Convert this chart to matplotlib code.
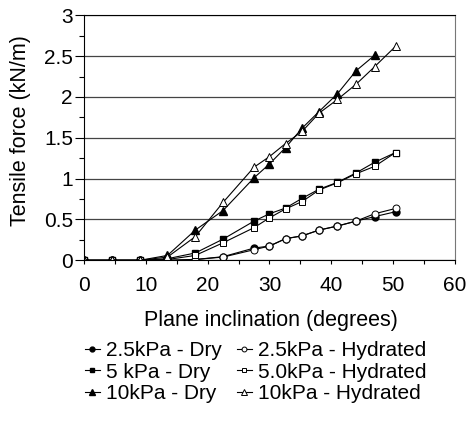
import matplotlib
matplotlib.use('Agg')
import matplotlib.pyplot as plt
from matplotlib.ticker import MultipleLocator, FormatStrFormatter

plt.rcParams['font.family'] = ['Liberation Sans', 'DejaVu Sans']

# inclinacao do plano (graus)
inclinacao = [0, 4.5, 9, 13.5, 18, 22.5, 27.5, 30, 32.6, 35.3, 38, 41, 44, 47, 50.4]

seco_25 = [0, 0, 0, 0, 0.01, 0.045, 0.15, 0.175, 0.265, 0.30, 0.37, 0.42, 0.48, 0.535, 0.595]
hidr_25 = [0, 0, 0, 0, 0.01, 0.04, 0.13, 0.175, 0.265, 0.30, 0.37, 0.42, 0.48, 0.57, 0.635]
seco_5 = [0, 0, 0, 0.02, 0.09, 0.26, 0.48, 0.57, 0.64, 0.76, 0.87, 0.955, 1.07, 1.20, 1.32]
hidr_5 = [0, 0, 0, 0.01, 0.06, 0.215, 0.40, 0.52, 0.63, 0.72, 0.86, 0.95, 1.06, 1.15, 1.32]
seco_10 = [0, 0, 0, 0.06, 0.37, 0.61, 1.01, 1.18, 1.38, 1.62, 1.82, 2.04, 2.32, 2.51]
hidr_10 = [0, 0, 0, 0.04, 0.29, 0.71, 1.14, 1.27, 1.43, 1.58, 1.80, 1.97, 2.155, 2.37, 2.62]

fig = plt.figure(figsize=(4.7, 4.24), dpi=100)
ax = fig.add_axes([0.1787, 0.386, 0.7893, 0.578])

ax.grid(axis='y', color='#444444', linewidth=0.9)
ax.set_axisbelow(True)

estilo = dict(color='black', linewidth=0.8)
l1, = ax.plot(inclinacao, seco_25, marker='o', ms=5, mfc='black', mec='black', **estilo)
l2, = ax.plot(inclinacao, hidr_25, marker='o', ms=5, mfc='white', mec='black', mew=0.7, **estilo)
l3, = ax.plot(inclinacao, seco_5, marker='s', ms=5, mfc='black', mec='black', **estilo)
l4, = ax.plot(inclinacao, hidr_5, marker='s', ms=5, mfc='white', mec='black', mew=0.7, **estilo)
l5, = ax.plot(inclinacao[:len(seco_10)], seco_10, marker='^', ms=5.5, mfc='black', mec='black', **estilo)
l6, = ax.plot(inclinacao, hidr_10, marker='^', ms=5.5, mfc='white', mec='black', mew=0.7, **estilo)

ax.set_xlim(0, 60)
ax.set_ylim(0, 3)
ax.xaxis.set_major_locator(MultipleLocator(10))
ax.xaxis.set_minor_locator(MultipleLocator(5))
ax.yaxis.set_major_locator(MultipleLocator(0.5))
ax.yaxis.set_minor_locator(MultipleLocator(0.25))
ax.yaxis.set_major_formatter(FormatStrFormatter('%g'))
ax.tick_params(axis='x', which='both', direction='out', length=3, width=0.8, color='black')
ax.tick_params(axis='x', which='major', labelsize=15, pad=8.5)
ax.tick_params(axis='y', which='major', direction='out', length=6.5, width=0.8, labelsize=15, pad=1.5)
ax.tick_params(axis='y', which='minor', direction='out', length=3.5, width=0.8)
ax.spines['right'].set_color('#777777')

ax.set_xlabel('Plane inclination (degrees)', fontsize=15.5)
ax.xaxis.set_label_coords(0.503, -0.203)
ax.set_ylabel('Tensile force (kN/m)', fontsize=15.5)
ax.yaxis.set_label_coords(-0.143, 0.53)

leg = fig.legend([l1, l3, l5, l2, l4, l6],
                 ['2.5kPa - Dry', '5 kPa - Dry', '10kPa - Dry',
                  '2.5kPa - Hydrated', '5.0kPa - Hydrated', '10kPa - Hydrated'],
                 ncol=2, loc='center left', bbox_to_anchor=(0.181, 0.1226),
                 frameon=False, fontsize=15, handlelength=0.7, handletextpad=0.29,
                 columnspacing=0.75, labelspacing=0.13, markerscale=0.7,
                 borderaxespad=0, borderpad=0)

fig.savefig('out.png', dpi=100)
